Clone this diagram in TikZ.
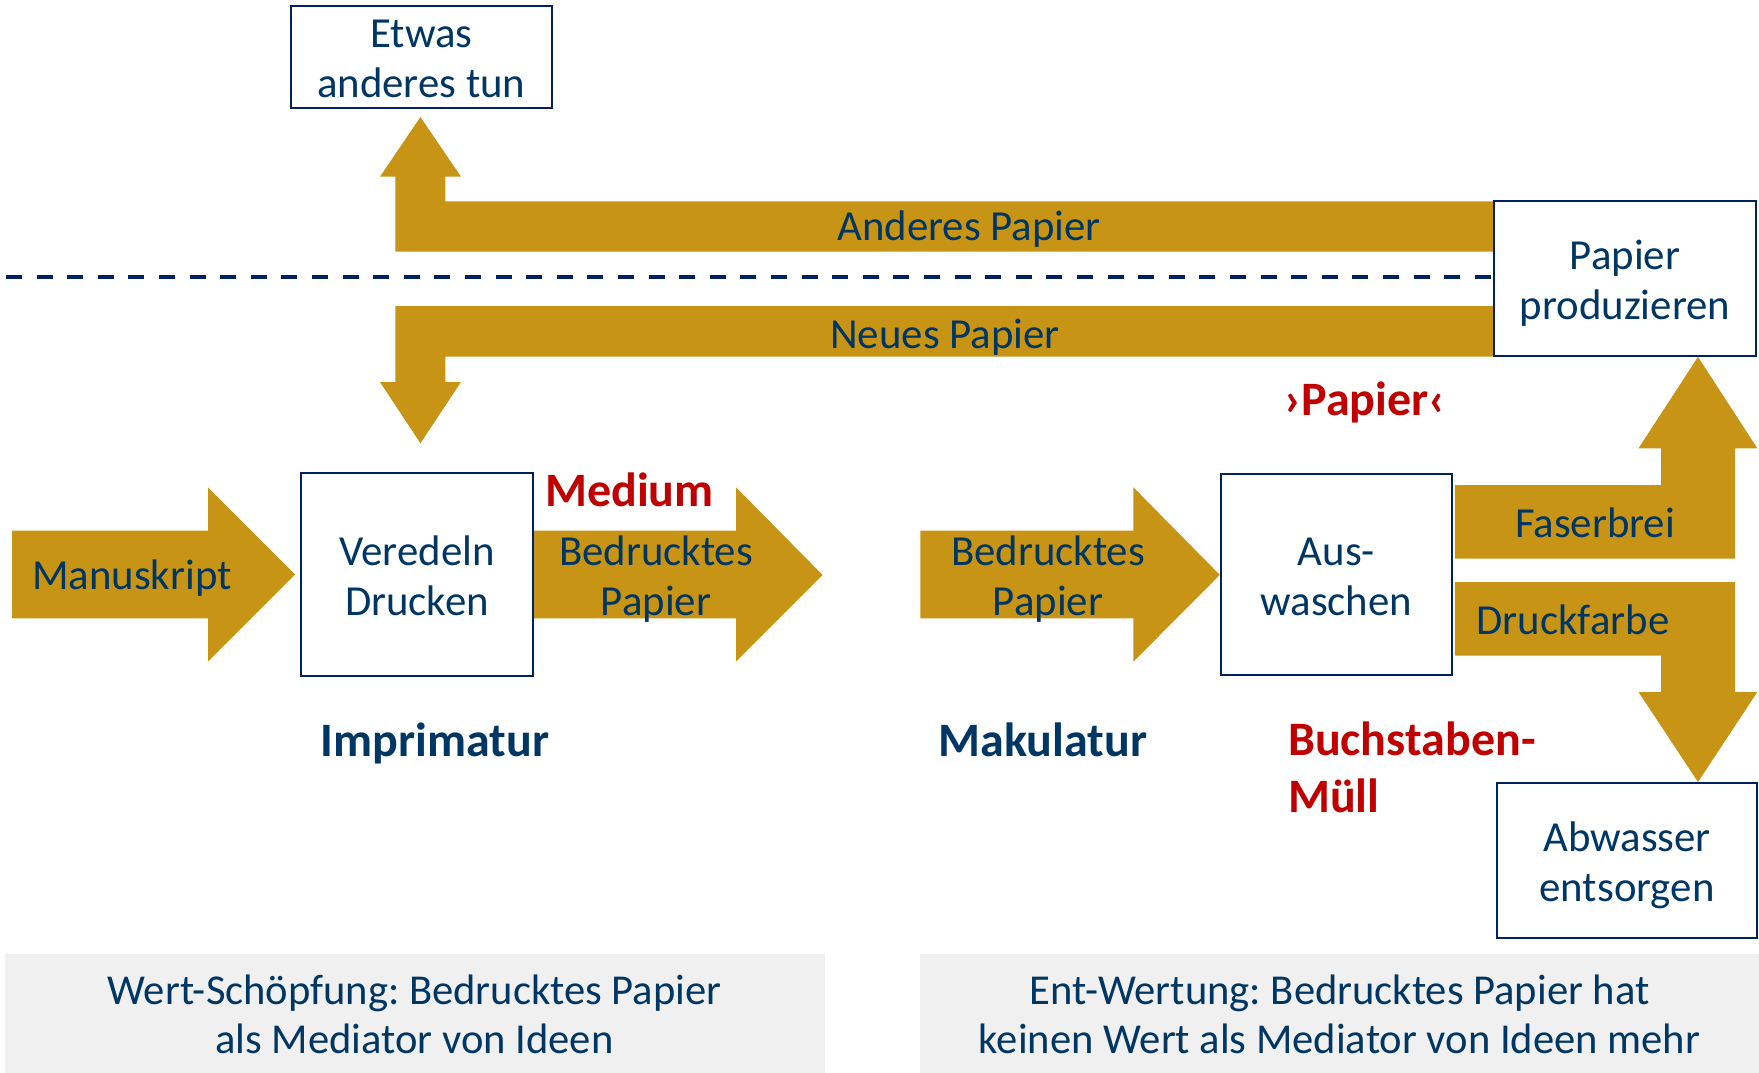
\documentclass[tikz,border=0pt]{standalone}
\usepackage{fontspec}
\setmainfont{Carlito}
\usetikzlibrary{calc}
\frenchspacing
\definecolor{gold}{RGB}{200,148,22}
\definecolor{navytxt}{RGB}{0,54,100}
\definecolor{boxline}{RGB}{0,32,96}
\definecolor{redtxt}{RGB}{192,0,0}
\definecolor{panelgray}{RGB}{240,240,240}
\newcommand{\szReg}{\fontsize{42.8}{50}\selectfont\lineskiplimit=-50pt}
\newcommand{\szBold}{\fontsize{48}{57}\selectfont\lineskiplimit=-50pt\bfseries}
\newcommand{\szPanel}{\fontsize{42.6}{49}\selectfont\lineskiplimit=-50pt}
% strut: height 42pt above the baseline, depth 10pt below it
\newcommand{\strutA}{\rule[-10pt]{0pt}{52pt}}
% slightly taller first-line strut for the two middle process boxes
\newcommand{\strutV}{\rule[-10pt]{0pt}{51.2pt}}
\pgfdeclarelayer{bg}
\pgfsetlayers{bg,main}
\tikzset{
  txtstrut/.style={execute at begin node=\strutA, execute at end node=\strutA},
  procbox/.style={draw=boxline, line width=2pt, fill=white, align=center, inner sep=0pt, font=\szReg, text=navytxt},
  lbl/.style={inner sep=0pt, font=\szReg, text=navytxt, txtstrut},
  lbltwo/.style={inner sep=0pt, font=\szReg, text=navytxt, align=center},
  redbold/.style={inner sep=0pt, font=\szBold, text=redtxt, txtstrut},
  redboldtwo/.style={inner sep=0pt, font=\szBold, text=redtxt, align=left},
  navybold/.style={inner sep=0pt, font=\szBold, text=navytxt, txtstrut},
  panelbox/.style={fill=panelgray, inner sep=0pt, font=\szPanel, text=navytxt, align=center},
  blockarrow/.style={fill=gold},
  divider/.style={draw=boxline, line width=4pt, dash pattern=on 16pt off 14.6pt}
}
\begin{document}
\begin{tikzpicture}[x=1pt,y=-1pt]
\useasboundingbox (0,0) rectangle (1759,1073);

% bottom panels
\node[panelbox, minimum width=820pt, minimum height=119.5pt] (wl) at (414.5,1013.25) {\strutA Wert-Schöpfung: Bedrucktes Papier\\als Mediator von Ideen\strutA};
\node[panelbox, minimum width=839pt, minimum height=119.5pt] (wr) at (1339.5,1013.25) {\strutA Ent-Wertung: Bedrucktes Papier hat\\keinen Wert als Mediator von Ideen mehr\strutA};

% process boxes
\node[procbox, minimum width=261.5pt, minimum height=100pt] (etwas) at (421.3,56.6) {\strutA Etwas\\anderes tun\strutA};
\node[procbox, minimum width=262pt, minimum height=155pt] (pp) at (1625,278.4) {\strutA Papier\\produzieren\strutA};
\node[procbox, minimum width=231.7pt, minimum height=202.4pt] (ver) at (417,574.5) {\strutV Veredeln\\Drucken\strutA};
\node[procbox, minimum width=231pt, minimum height=201pt] (aus) at (1336.3,574.9) {\strutV Aus-\\waschen\strutA};
\node[procbox, minimum width=260pt, minimum height=155pt] (abw) at (1627,860.5) {\strutA Abwasser\\entsorgen\strutA};

\coordinate (dstart) at (6,276.7);

\begin{pgfonlayer}{bg}
% dashed divider
\draw[divider] (dstart) -- (pp.west |- dstart);
% Anderes Papier: pp -> etwas
\fill[blockarrow] (pp.west |- 0,201.3) -- (445.4,201.3) -- (445.4,176.7) -- (461,176.7)
  -- ($(etwas.south)+(-0.9,8.4)$) -- (380,176.7) -- (395.4,176.7) -- (395.4,251.7)
  -- (pp.west |- 0,251.7) -- cycle;
% Neues Papier: pp -> ver
\fill[blockarrow] (pp.west |- 0,306) -- (395.4,306) -- (395.4,382) -- (380,382)
  -- (420.4,443.3) -- (461,382) -- (445.4,382) -- (445.4,356.7)
  -- (pp.west |- 0,356.7) -- cycle;
% Manuskript -> ver
\fill[blockarrow] (12,530.7) -- (208,530.7) -- (208,487.3) -- ($(ver.west)+(-5,0)$)
  -- (208,661.7) -- (208,618.3) -- (12,618.3) -- cycle;
% ver -> Bedrucktes Papier
\fill[blockarrow] (ver.east |- 0,530.7) -- (736,530.7) -- (736,487.3) -- (822.6,575)
  -- (736,661.7) -- (736,618.3) -- (ver.east |- 0,618.3) -- cycle;
% Bedrucktes Papier -> aus
\fill[blockarrow] (920.4,530.7) -- (1133.4,530.7) -- (1133.4,487.3) -- (aus.west)
  -- (1133.4,661.7) -- (1133.4,618.3) -- (920.4,618.3) -- cycle;
% Faserbrei: aus -> pp
\fill[blockarrow] ($(aus.east |- 0,485)+(2,0)$) -- (1661,485) -- (1661,448.3) -- (1638.5,448.3)
  -- (1698,0 |- pp.south) -- (1757.3,448.3) -- (1735,448.3) -- (1735,558.7)
  -- ($(aus.east |- 0,558.7)+(2,0)$) -- cycle;
% Druckfarbe: aus -> abw
\fill[blockarrow] ($(aus.east |- 0,582)+(2,0)$) -- (1735,582) -- (1735,692) -- (1757.3,692)
  -- (1698,0 |- abw.north) -- (1638.5,692) -- (1661,692) -- (1661,655.5)
  -- ($(aus.east |- 0,655.5)+(2,0)$) -- cycle;
\end{pgfonlayer}

% arrow labels
\node[lbl] (tanderes) at (969,224.3) {Anderes Papier};
\node[lbl] (tneues) at (945,332.7) {Neues Papier};
\node[lbl] (tmanu) at (132,573.7) {Manuskript};
\node[lbltwo] (tbed1) at (656,574.2) {\strutA Bedrucktes\\Papier\strutA};
\node[lbltwo] (tbed2) at (1048,574.2) {\strutA Bedrucktes\\Papier\strutA};
\node[lbl] (tfaser) at (1595,521.5) {Faserbrei};
\node[lbl] (tdruck) at (1573,618.6) {Druckfarbe};

% annotations
\node[redbold] (medium) at (629.5,490) {Medium};
\node[redbold] (papierq) at (1365,399.3) {›Papier‹};
\node[navybold] (impr) at (435,740) {Imprimatur};
\node[navybold] (makul) at (1043,740.5) {Makulatur};
\node[redboldtwo, anchor=west] (muell) at (1288,767.7) {\strutA Buchstaben-\\Müll\strutA};
\end{tikzpicture}
\end{document}
